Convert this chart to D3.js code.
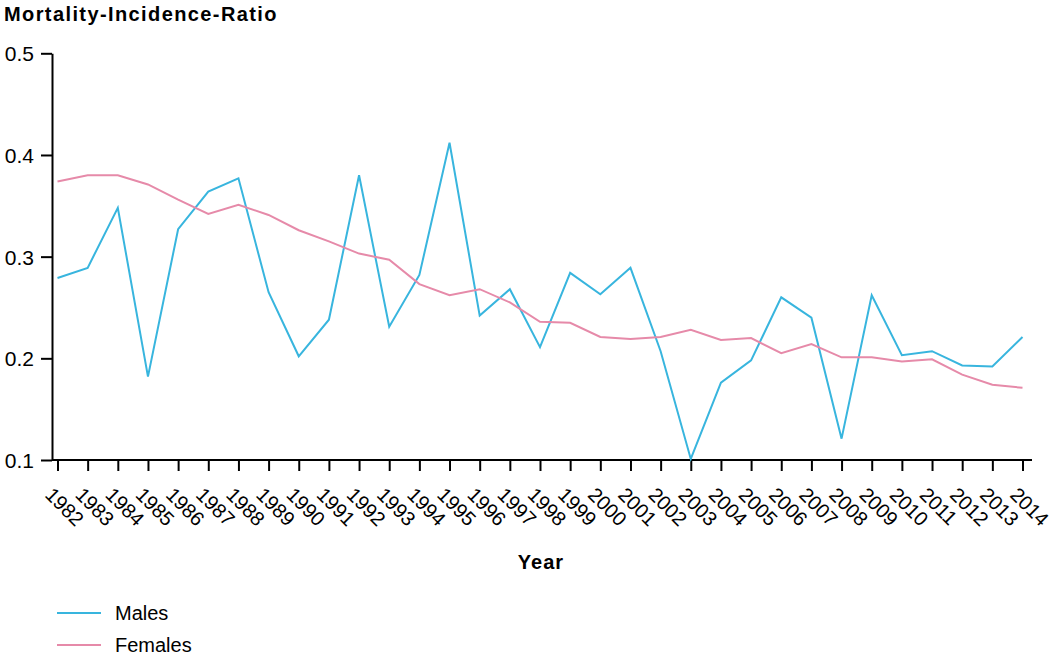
<!DOCTYPE html>
<html>
<head>
<meta charset="utf-8">
<script src="https://cdn.jsdelivr.net/npm/d3@7"></script>
<style>
  html, body { margin: 0; padding: 0; background: #fff; }
  svg { display: block; font-family: "Liberation Sans", Arial, sans-serif; }
</style>
</head>
<body>
<svg id="chart" width="1050" height="659"></svg>
<script>
const years = [1982,1983,1984,1985,1986,1987,1988,1989,1990,1991,1992,1993,1994,1995,1996,1997,1998,1999,2000,2001,2002,2003,2004,2005,2006,2007,2008,2009,2010,2011,2012,2013,2014];
const males = [0.279,0.289,0.348,0.182,0.327,0.364,0.377,0.265,0.202,0.238,0.380,0.231,0.282,0.412,0.242,0.268,0.211,0.284,0.263,0.289,0.207,0.101,0.176,0.198,0.260,0.240,0.121,0.262,0.203,0.207,0.193,0.192,0.221];
const females = [0.374,0.380,0.380,0.371,0.356,0.342,0.351,0.341,0.326,0.315,0.303,0.297,0.273,0.262,0.268,0.255,0.236,0.235,0.221,0.219,0.221,0.228,0.218,0.220,0.205,0.214,0.201,0.201,0.197,0.199,0.184,0.174,0.171];
const yTicks = [0.1,0.2,0.3,0.4,0.5];
const seriesNames = ["Males","Females"];
const seriesColors = ["#38b5de","#e68aa9"];

const svg = d3.select("#chart");
const x = d3.scalePoint().domain(years).range([57.5, 1022.5]);
const y = d3.scaleLinear().domain([0.1, 0.5]).range([460, 53.3]);

// Title
svg.append("text").attr("x", 4).attr("y", 21)
  .attr("font-size", 20).attr("font-weight", "bold").attr("letter-spacing", 1.4)
  .attr("fill", "#000").text("Mortality-Incidence-Ratio");

// Y axis
const yAxis = d3.axisLeft(y).tickValues(yTicks).tickSize(11).tickSizeOuter(0).tickPadding(7)
  .tickFormat(d3.format(".1f"));
const gy = svg.append("g").attr("transform", "translate(52,0)").call(yAxis);
gy.select(".domain").attr("stroke", "#000").attr("stroke-width", 2);
gy.selectAll(".tick line").attr("stroke", "#000").attr("stroke-width", 2);
gy.selectAll(".tick text").attr("font-size", 21).attr("fill", "#000")
  .attr("font-family", "Liberation Sans, Arial, sans-serif").attr("dy", "0.36em");

// X axis
const xAxis = d3.axisBottom(x).tickSize(11).tickSizeOuter(0).tickFormat(d => String(d));
const gx = svg.append("g").attr("transform", "translate(0,460)").call(xAxis);
gx.select(".domain").remove();
gx.append("line").attr("x1", 52).attr("x2", 1032).attr("y1", 0).attr("y2", 0)
  .attr("stroke", "#000").attr("stroke-width", 2);
gx.selectAll(".tick line").attr("stroke", "#000").attr("stroke-width", 2);
gx.selectAll(".tick text")
  .attr("font-size", 20).attr("fill", "#000")
  .attr("font-family", "Liberation Sans, Arial, sans-serif")
  .attr("text-anchor", "start")
  .attr("dy", null).attr("y", null)
  .attr("transform", "translate(-14,36) rotate(45)");

// Axis title
svg.append("text").attr("x", 541).attr("y", 569).attr("text-anchor", "middle")
  .attr("font-size", 20).attr("font-weight", "bold").attr("letter-spacing", 1)
  .attr("fill", "#000").text("Year");

// Lines
const line = d3.line().x((d, i) => x(years[i])).y(d => y(d));
[males, females].forEach((s, k) => {
  svg.append("path").datum(s).attr("d", line).attr("fill", "none")
    .attr("stroke", seriesColors[k]).attr("stroke-width", 2).attr("stroke-linejoin", "miter");
});

// Legend
const leg = svg.append("g");
seriesNames.forEach((n, k) => {
  const yy = 613 + k * 32;
  leg.append("line").attr("x1", 57).attr("x2", 101).attr("y1", yy).attr("y2", yy)
    .attr("stroke", seriesColors[k]).attr("stroke-width", 2);
  leg.append("text").attr("x", 115).attr("y", yy).attr("dy", "0.36em")
    .attr("font-size", 20).attr("fill", "#000").text(n);
});
</script>
</body>
</html>
